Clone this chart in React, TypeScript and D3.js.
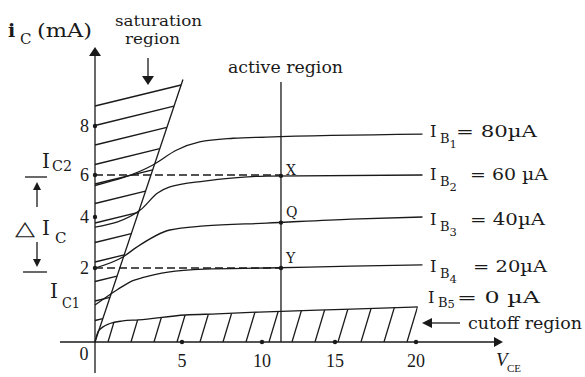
import React from "react";
import * as d3 from "d3";

const W = 585;
const H = 377;

// axis ticks
const vceTicks = [5, 10, 15, 20];
const icTicks = [2, 4, 6, 8];

// characteristic curves [V_CE (V), i_C (mA)]
const ib80: [number, number][] = [[0, 5.5], [3.3, 6.4], [4.7, 7.02], [6.1, 7.35], [8.2, 7.5], [10.3, 7.55], [20.4, 7.67]];
const ib60: [number, number][] = [[0, 3.6], [2.6, 4.33], [3.6, 5.14], [4.3, 5.43], [6.4, 5.71], [10.3, 5.95], [20.4, 6.0]];
const ib40: [number, number][] = [[0, 2.0], [1.6, 2.43], [2.4, 2.82], [4.3, 3.49], [6.4, 3.65], [10.3, 3.76], [16, 3.92], [20.4, 4.0]];
const ib20: [number, number][] = [[0, 1.0], [1.3, 1.42], [2.0, 1.62], [2.9, 1.76], [4.2, 1.89], [6.4, 1.97], [10.3, 2.0], [16, 2.07], [20.4, 2.12]];
const ib0: [number, number][] = [[0, 0], [0.2, 0.3], [0.86, 0.5], [1.6, 0.57], [2.5, 0.6], [5.2, 0.73], [7.2, 0.76], [9.8, 0.81], [16, 0.89], [20.1, 0.95]];

const curveSeries = [ib80, ib60, ib40, ib20];
const ibSubs = ["1", "2", "3", "4", "5"];
const ibTexts = ["= 80\u00B5A", "= 60 \u00B5A", "= 40\u00B5A", "= 20\u00B5A", "= 0 \u00B5A"];

// saturation boundary line
const satLine: [number, number][] = [[0, 0], [5.06, 9.9]];
// active region line
const activeVce = 11.3;
const activeTop = 9.8;
// operating points on the active line
const opLabels = ["X", "Q", "Y"];
const opIc = [5.96, 3.78, 2.0];
// dashed reference levels (I_C2, I_C1)
const dashIc = [6, 2];

const serif = "'DejaVu Serif', serif";
const times = "'Liberation Serif', 'Times New Roman', serif";
const ink = "#1a1a1a";

export default function App() {
  const x = d3.scaleLinear().domain([0, 5, 10, 15, 20]).range([95, 182, 262, 335, 416]);
  const y = d3.scaleLinear().domain([0, 2, 4, 6, 8]).range([342, 268, 217, 175, 126]);
  const line = d3
    .line<[number, number]>()
    .x((d) => x(d[0]))
    .y((d) => y(d[1]))
    .curve(d3.curveMonotoneX);
  const area = d3
    .area<[number, number]>()
    .x((d) => x(d[0]))
    .y0(() => y(0))
    .y1((d) => y(d[1]))
    .curve(d3.curveMonotoneX);

  const x0 = x(0);
  const y0 = y(0);

  // saturation hatch lines: from y-axis up-right to the slant boundary
  const sx1 = x(satLine[1][0]);
  const sy1 = y(satLine[1][1]);
  const k = (sx1 - x0) / (y0 - sy1);
  const m = 20 / 82;
  const satHatch = d3.range(106, 330, 19.5).map((hy) => {
    const t = (k * (y0 - hy)) / (1 - m * k);
    return { x1: x0, y1: hy, x2: x0 + t, y2: hy - m * t };
  });

  // cutoff hatch lines
  const cutHatch = d3.range(108, 410, 23).map((bx) => ({ x1: bx, y1: y0, x2: bx + 0.3 * 60, y2: y0 - 60 }));

  const sw = 1.3;

  const labelBase = [137, 180, 225, 272, 303];
  const labelIx = [430, 430, 430, 430, 428];
  const eqX = [456, 470, 470, 473, 457];
  const eqEnd = [537, 548, 545, 547, 540];

  return (
    <svg
      width={W}
      height={H}
      viewBox={`0 0 ${W} ${H}`}
      style={{ position: "absolute", left: 0, top: 0, background: "#fff" }}
    >
      <rect x={0} y={0} width={W} height={H} fill="#fff" />
      <defs>
        <clipPath id="cutClip">
          <path d={area(ib0) || ""} />
        </clipPath>
      </defs>

      {/* axes */}
      <line x1={x0} y1={53} x2={x0} y2={373} stroke={ink} strokeWidth={sw} />
      <polygon points={`${x0},47 ${x0 - 6},56 ${x0 + 6},56`} fill={ink} />
      <line x1={60} y1={y0} x2={497} y2={y0} stroke={ink} strokeWidth={sw} />
      <polygon points={`503,${y0} 494,${y0 - 5} 494,${y0 + 5}`} fill={ink} />

      {/* tick marks */}
      {icTicks.map((v) => (
        <circle key={"yt" + v} cx={x0} cy={y(v)} r={2.2} fill={ink} />
      ))}
      {vceTicks.map((v) => (
        <circle key={"xt" + v} cx={x(v)} cy={y0} r={2.2} fill={ink} />
      ))}

      {/* tick labels */}
      {icTicks.map((v) => (
        <text key={"yl" + v} x={89} y={y(v) + 6} fontFamily={times} fontSize={18} textAnchor="end" fill={ink}>
          {v}
        </text>
      ))}
      <text x={84} y={360} fontFamily={times} fontSize={18} textAnchor="middle" fill={ink}>
        0
      </text>
      {vceTicks.map((v) => (
        <text key={"xl" + v} x={x(v)} y={367} fontFamily={times} fontSize={18} textAnchor="middle" fill={ink}>
          {v}
        </text>
      ))}

      {/* saturation region */}
      <path d={line(satLine) || ""} fill="none" stroke={ink} strokeWidth={sw} />
      {satHatch.map((h, i) => (
        <line key={"sh" + i} x1={h.x1} y1={h.y1} x2={h.x2} y2={h.y2} stroke={ink} strokeWidth={sw} />
      ))}

      {/* cutoff region */}
      <g clipPath="url(#cutClip)">
        {cutHatch.map((h, i) => (
          <line key={"ch" + i} x1={h.x1} y1={h.y1} x2={h.x2} y2={h.y2} stroke={ink} strokeWidth={sw} />
        ))}
      </g>
      <path d={line(ib0) || ""} fill="none" stroke={ink} strokeWidth={sw} />

      {/* characteristic curves */}
      {curveSeries.map((s, i) => (
        <path key={"c" + i} d={line(s) || ""} fill="none" stroke={ink} strokeWidth={sw} />
      ))}

      {/* dashed levels */}
      {dashIc.map((v) => (
        <line
          key={"d" + v}
          x1={x0}
          y1={y(v)}
          x2={x(activeVce)}
          y2={y(v)}
          stroke={ink}
          strokeWidth={sw}
          strokeDasharray="8 4"
        />
      ))}

      {/* active region line */}
      <line x1={x(activeVce)} y1={y(activeTop)} x2={x(activeVce)} y2={y0} stroke={ink} strokeWidth={sw} />
      {opIc.map((v, i) => (
        <g key={"op" + i}>
          <circle cx={x(activeVce)} cy={y(v)} r={2.2} fill={ink} />
          <text x={x(activeVce) + 5} y={y(v) + [-1, -6, -5][i]} fontFamily={serif} fontSize={14} fill={ink}>
            {opLabels[i]}
          </text>
        </g>
      ))}

      {/* right labels */}
      {ibSubs.map((sub, i) => (
        <g key={"lab" + i} fill={ink}>
          <text x={labelIx[i]} y={labelBase[i]} fontFamily={serif} fontSize={16.5}>
            I
          </text>
          <text x={labelIx[i] + 10} y={labelBase[i] + (i === 4 ? 4 : 6)} fontFamily={serif} fontSize={13}>
            B
          </text>
          <text x={labelIx[i] + 19.5} y={labelBase[i] + (i === 4 ? 5 : 11)} fontFamily={serif} fontSize={11.5}>
            {sub}
          </text>
          <text
            x={eqX[i]}
            y={labelBase[i]}
            fontFamily={serif}
            fontSize={16.5}
            textLength={eqEnd[i] - eqX[i]}
            lengthAdjust="spacingAndGlyphs"
          >
            {ibTexts[i]}
          </text>
        </g>
      ))}

      {/* cutoff annotation */}
      <line x1={460} y1={323} x2={430} y2={323} stroke={ink} strokeWidth={sw} />
      <polygon points="422,323 432,318 432,328" fill={ink} />
      <text x={468} y={329} fontFamily={serif} fontSize={17} textLength={114} lengthAdjust="spacingAndGlyphs" fill={ink}>
        cutoff region
      </text>

      {/* saturation annotation */}
      <text x={115} y={26} fontFamily={serif} fontSize={15} textLength={87} lengthAdjust="spacingAndGlyphs" fill={ink}>
        saturation
      </text>
      <text x={125} y={44} fontFamily={serif} fontSize={15} textLength={55} lengthAdjust="spacingAndGlyphs" fill={ink}>
        region
      </text>
      <line x1={148} y1={58} x2={148} y2={78} stroke={ink} strokeWidth={sw} />
      <polygon points="148,85 142,76 154,76" fill={ink} />

      {/* active annotation */}
      <text x={228} y={73} fontFamily={serif} fontSize={17} textLength={115} lengthAdjust="spacingAndGlyphs" fill={ink}>
        active region
      </text>

      {/* y-axis title */}
      <text x={8} y={37} fontFamily={serif} fontSize={19} fontWeight="bold" fill={ink}>
        i
      </text>
      <text x={20} y={44} fontFamily={serif} fontSize={15} fill={ink}>
        C
      </text>
      <text x={37} y={37} fontFamily={serif} fontSize={19} textLength={55} lengthAdjust="spacingAndGlyphs" fill={ink}>
        (mA)
      </text>

      {/* x-axis title */}
      <text x={496} y={366} fontFamily={times} fontSize={19} fontStyle="italic" fill={ink}>
        V
      </text>
      <text x={507} y={372} fontFamily={times} fontSize={11} fill={ink}>
        CE
      </text>

      {/* delta I_C annotation */}
      <text x={42} y={168} fontFamily={serif} fontSize={20} fill={ink}>
        I
      </text>
      <text x={52} y={171} fontFamily={serif} fontSize={14} textLength={20} lengthAdjust="spacingAndGlyphs" fill={ink}>
        C2
      </text>
      <line x1={25} y1={177} x2={47} y2={177} stroke={ink} strokeWidth={sw} />
      <line x1={37} y1={188} x2={37} y2={207} stroke={ink} strokeWidth={sw} />
      <polygon points="37,182 33,190 41,190" fill={ink} />
      <text x={15} y={235} fontFamily={"'DejaVu Sans', sans-serif"} fontSize={20} textLength={20} lengthAdjust="spacingAndGlyphs" fill={ink}>
        {"\u25B3"}
      </text>
      <text x={42} y={235} fontFamily={serif} fontSize={20} fill={ink}>
        I
      </text>
      <text x={55} y={243} fontFamily={serif} fontSize={15} fill={ink}>
        C
      </text>
      <line x1={37} y1={242} x2={37} y2={261} stroke={ink} strokeWidth={sw} />
      <polygon points="37,267 33,259 41,259" fill={ink} />
      <line x1={23} y1={272} x2={47} y2={272} stroke={ink} strokeWidth={sw} />
      <text x={50} y={298} fontFamily={serif} fontSize={20} fill={ink}>
        I
      </text>
      <text x={62} y={308} fontFamily={serif} fontSize={14} textLength={18} lengthAdjust="spacingAndGlyphs" fill={ink}>
        C1
      </text>
    </svg>
  );
}
